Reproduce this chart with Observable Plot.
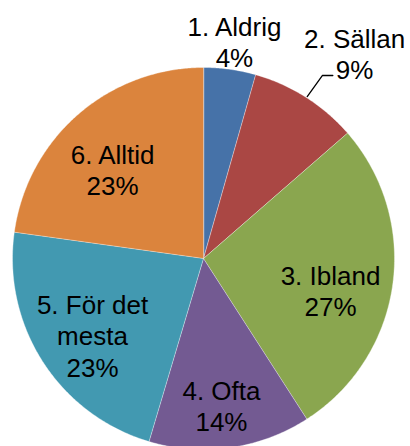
<!DOCTYPE html>
<html>
<head>
<meta charset="utf-8">
<script src="https://cdn.jsdelivr.net/npm/d3@7"></script>
<script src="https://cdn.jsdelivr.net/npm/@observablehq/plot@0.6"></script>
<style>
  html, body { margin: 0; padding: 0; background: #fff; }
  #chart svg { display: block; }
</style>
</head>
<body>
<div id="chart"></div>
<script>
// ---- data ----
const categories = ["1. Aldrig", "2. Sällan", "3. Ibland", "4. Ofta", "5. För det mesta", "6. Alltid"];
const labelLines = ["1. Aldrig", "2. Sällan", "3. Ibland", "4. Ofta", "5. För det\nmesta", "6. Alltid"];
const shares = [4.4, 9.2, 27.3, 13.7, 22.6, 22.8];       // slice sizes
const pctLabels = ["4%", "9%", "27%", "14%", "23%", "23%"]; // printed labels
const colors = ["#4672A8", "#AA4744", "#8AA64F", "#735A92", "#4299B1", "#DB843D"];

// ---- layout (label centres in unit-circle coords) ----
const labelPos = [
  [0.162, 1.138], [0.791, 1.075], [0.665, -0.168],
  [0.094, -0.770], [-0.581, -0.403], [-0.476, 0.466]
];
const leaderPts = [[0.543, 0.848], [0.622, 0.958], [0.677, 0.958]];

// ---- build slices ----
const arcs = d3.pie().sort(null).value(d => d)(shares);
const pts = [];
arcs.forEach((a, i) => {
  const cat = categories[i];
  pts.push({cat, x: 0, y: 0});
  const n = Math.max(2, Math.ceil((a.endAngle - a.startAngle) / (Math.PI / 360)));
  for (let k = 0; k <= n; k++) {
    const t = a.startAngle + (a.endAngle - a.startAngle) * k / n;
    pts.push({cat, x: Math.sin(t), y: Math.cos(t)});
  }
});
const labels = categories.map((c, i) => ({
  text: labelLines[i] + "\n" + pctLabels[i],
  x: labelPos[i][0], y: labelPos[i][1]
}));
const leader = leaderPts.map(([x, y]) => ({x, y}));

const chart = Plot.plot({
  width: 410,
  height: 446,
  margin: 0,
  style: {background: "white", fontFamily: "'Liberation Sans', Arial, sans-serif"},
  x: {domain: [-1, 1], range: [12, 394], axis: null},
  y: {domain: [-1, 1], range: [449, 67], axis: null},
  color: {domain: categories, range: colors},
  marks: [
    Plot.line(pts, {x: "x", y: "y", z: "cat", fill: "cat", stroke: "white", strokeWidth: 0.6, strokeOpacity: 0.6, curve: "linear-closed"}),
    Plot.line(leader, {x: "x", y: "y", stroke: "black", strokeWidth: 1.3}),
    Plot.text(labels, {x: "x", y: "y", text: "text", fontSize: 26, lineHeight: 1.2, textAnchor: "middle", fill: "black", fontFamily: "'Liberation Sans', Arial, sans-serif"})
  ]
});
document.getElementById("chart").append(chart);
</script>
</body>
</html>
